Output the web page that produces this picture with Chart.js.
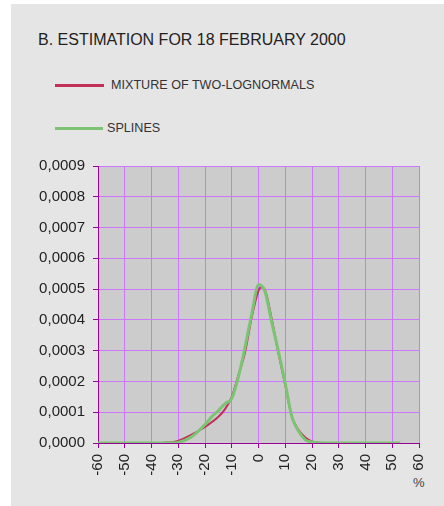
<!DOCTYPE html>
<html>
<head>
<meta charset="utf-8">
<script src="https://cdn.jsdelivr.net/npm/chart.js@4.4.1/dist/chart.umd.min.js"></script>
<style>
  body { margin: 0; background: #fff; font-family: "Liberation Sans", Arial, sans-serif; }
  #wrap { position: relative; width: 444px; height: 506px; overflow: hidden; }
  #panel { position: absolute; left: 11px; top: 4px; width: 433px; height: 502px; background: #e5e5e5; }
  #chart { position: absolute; left: 0; top: 0; }
  .txt { position: absolute; white-space: nowrap; color: #222; }
  .key { position: absolute; height: 3px; }
</style>
</head>
<body>
<div id="wrap">
  <div id="panel"></div>
  <div class="txt" style="left:38px; top:31px; font-size:16px; line-height:18px;">B. ESTIMATION FOR 18 FEBRUARY 2000</div>
  <div class="key" style="left:55px; top:84px; width:49px; background:#c03058;"></div>
  <div class="txt" style="left:111px; top:77px; font-size:12.6px; line-height:16px; color:#333;">MIXTURE OF TWO-LOGNORMALS</div>
  <div class="key" style="left:55px; top:127px; width:48px; background:#7cc474;"></div>
  <div class="txt" style="left:107px; top:120px; font-size:12.6px; line-height:16px; color:#333;">SPLINES</div>
  <div class="txt" style="left:413px; top:476px; font-size:13px; line-height:14px; color:#444;">%</div>
  <canvas id="chart" width="444" height="506"></canvas>
</div>
<script>
// x in %, density values
const mixX = [-60, -40, -35, -30, -25, -20, -15, -12.5, -10, -7.5, -5, -2.5, 0, 1, 2.5, 5, 7.5, 10, 12.5, 15, 17.5, 20, 25, 52];
const mixY = [0, 0, 0.000001, 0.000007, 0.000027, 0.000052, 0.000085, 0.00011, 0.00015, 0.00022, 0.000296, 0.00041, 0.000495, 0.000506, 0.000495, 0.0004, 0.00029, 0.000188, 0.000085, 0.000042, 0.000018, 0.000005, 0, 0];

const splX = [-60, -40, -35, -32.5, -30, -25, -20, -17.5, -15, -12.5, -10, -7.5, -5, -2.5, 0, 1, 2.5, 5, 7.5, 10, 12.5, 15, 17.5, 20, 25, 53];
const splY = [0, 0, 0, 0.0000005, 0.000002, 0.00002, 0.00006, 0.000085, 0.000105, 0.000128, 0.000145, 0.000215, 0.000313, 0.00042, 0.000514, 0.000512, 0.00049, 0.00039, 0.000296, 0.000194, 0.000085, 0.000038, 0.00001, 0.000003, 0, 0];

const xTicks = [-60, -50, -40, -30, -20, -10, 0, 10, 20, 30, 40, 50, 60];

const plotBg = {
    id: "plotBg",
    beforeDraw(chart) {
        const a = chart.chartArea;
        const ctx = chart.ctx;
        ctx.save();
        ctx.fillStyle = "#cccccc";
        ctx.fillRect(a.left, a.top, a.right - a.left, a.bottom - a.top);
        ctx.restore();
    }
};

const pts = (xs, ys) => xs.map((x, i) => ({ x: x, y: ys[i] }));

new Chart(document.getElementById("chart"), {
    type: "line",
    data: {
        datasets: [{
            label: "SPLINES",
            data: pts(splX, splY),
            borderColor: "#7cc474",
            borderWidth: 3,
            pointRadius: 0,
            cubicInterpolationMode: "monotone",
            fill: false
        }, {
            label: "MIXTURE OF TWO-LOGNORMALS",
            data: pts(mixX, mixY),
            borderColor: "#c03058",
            borderWidth: 2,
            pointRadius: 0,
            cubicInterpolationMode: "monotone",
            fill: false,
            order: 1
        }]
    },
    options: {
        responsive: false,
        animation: false,
        events: [],
        layout: { padding: { left: 0, right: 25, top: 166, bottom: 0 } },
        plugins: { legend: { display: false }, tooltip: { enabled: false } },
        scales: {
            x: {
                type: "linear",
                min: -60,
                max: 60,
                afterBuildTicks: s => { s.ticks = xTicks.map(v => ({ value: v })); },
                afterFit: s => { s.height = 63; },
                grid: { color: "#cc77ff", tickColor: "#990099", tickLength: 5 },
                border: { color: "#990099", width: 1 },
                ticks: {
                    minRotation: 90,
                    maxRotation: 90,
                    padding: 6,
                    color: "#222",
                    font: { family: "Liberation Sans", size: 15 }
                }
            },
            y: {
                min: 0,
                max: 0.0009,
                afterFit: s => { s.width = 98; },
                grid: { color: "#cc77ff", tickColor: "#990099", tickLength: 5 },
                border: { color: "#990099", width: 1 },
                ticks: {
                    stepSize: 0.0001,
                    padding: 8,
                    color: "#222",
                    font: { family: "Liberation Sans", size: 15 },
                    callback: v => v.toFixed(4).replace(".", ",")
                }
            }
        }
    },
    plugins: [plotBg]
});
</script>
</body>
</html>
